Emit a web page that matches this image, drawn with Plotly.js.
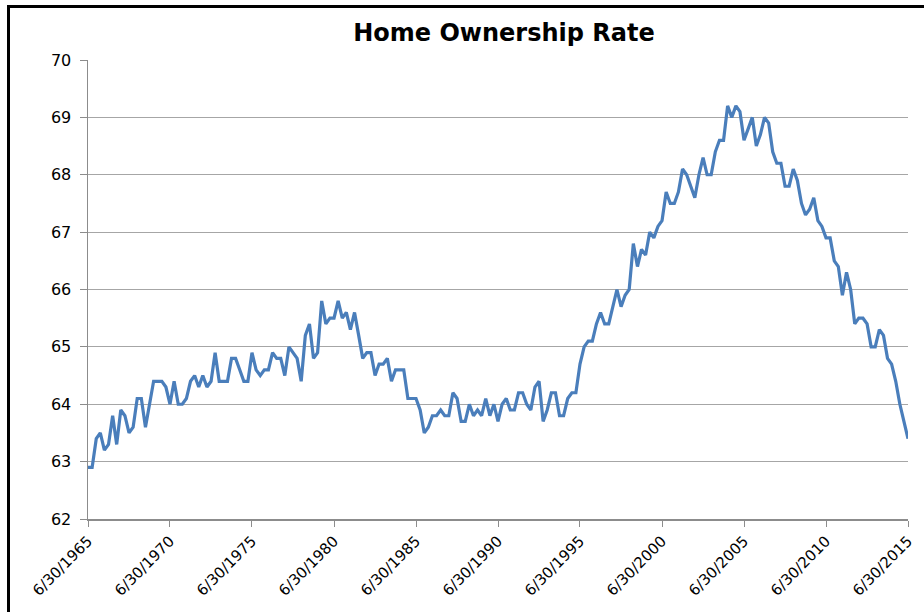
<!DOCTYPE html>
<html>
<head>
<meta charset="utf-8">
<script src="https://cdn.plot.ly/plotly-3.0.1.min.js"></script>
<style>
  html, body { margin: 0; padding: 0; background: #fff; }
  #wrap { position: relative; width: 924px; height: 612px; overflow: hidden; }
  #chart { position: absolute; left: 0; top: 0; width: 924px; height: 612px; }
  #frame { position: absolute; left: 7px; top: 5px; width: 930px; height: 620px;
           border-left: 3px solid #000; border-top: 3px solid #000; pointer-events: none; }
</style>
</head>
<body>
<div id="wrap">
  <div id="chart"></div>
  <div id="frame"></div>
</div>
<script>
// Quarterly home ownership rate (%), starting 6/30/1965
const firstYear = 1965;
const firstQuarter = 2;
const rates = [
  62.9, 62.9, 63.4, 63.5, 63.2, 63.3, 63.8, 63.3, 63.9, 63.8,
  63.5, 63.6, 64.1, 64.1, 63.6, 64.0, 64.4, 64.4, 64.4, 64.3,
  64.0, 64.4, 64.0, 64.0, 64.1, 64.4, 64.5, 64.3, 64.5, 64.3,
  64.4, 64.9, 64.4, 64.4, 64.4, 64.8, 64.8, 64.6, 64.4, 64.4,
  64.9, 64.6, 64.5, 64.6, 64.6, 64.9, 64.8, 64.8, 64.5, 65.0,
  64.9, 64.8, 64.4, 65.2, 65.4, 64.8, 64.9, 65.8, 65.4, 65.5,
  65.5, 65.8, 65.5, 65.6, 65.3, 65.6, 65.2, 64.8, 64.9, 64.9,
  64.5, 64.7, 64.7, 64.8, 64.4, 64.6, 64.6, 64.6, 64.1, 64.1,
  64.1, 63.9, 63.5, 63.6, 63.8, 63.8, 63.9, 63.8, 63.8, 64.2,
  64.1, 63.7, 63.7, 64.0, 63.8, 63.9, 63.8, 64.1, 63.8, 64.0,
  63.7, 64.0, 64.1, 63.9, 63.9, 64.2, 64.2, 64.0, 63.9, 64.3,
  64.4, 63.7, 63.9, 64.2, 64.2, 63.8, 63.8, 64.1, 64.2, 64.2,
  64.7, 65.0, 65.1, 65.1, 65.4, 65.6, 65.4, 65.4, 65.7, 66.0,
  65.7, 65.9, 66.0, 66.8, 66.4, 66.7, 66.6, 67.0, 66.9, 67.1,
  67.2, 67.7, 67.5, 67.5, 67.7, 68.1, 68.0, 67.8, 67.6, 68.0,
  68.3, 68.0, 68.0, 68.4, 68.6, 68.6, 69.2, 69.0, 69.2, 69.1,
  68.6, 68.8, 69.0, 68.5, 68.7, 69.0, 68.9, 68.4, 68.2, 68.2,
  67.8, 67.8, 68.1, 67.9, 67.5, 67.3, 67.4, 67.6, 67.2, 67.1,
  66.9, 66.9, 66.5, 66.4, 65.9, 66.3, 66.0, 65.4, 65.5, 65.5,
  65.4, 65.0, 65.0, 65.3, 65.2, 64.8, 64.7, 64.4, 64.0, 63.7,
  63.4
];
const tickDates = ['1965-06-30','1970-06-30','1975-06-30','1980-06-30','1985-06-30',
  '1990-06-30','1995-06-30','2000-06-30','2005-06-30','2010-06-30','2015-06-30'];
const tickLabels = ['6/30/1965','6/30/1970','6/30/1975','6/30/1980','6/30/1985',
  '6/30/1990','6/30/1995','6/30/2000','6/30/2005','6/30/2010','6/30/2015'];
const yTicks = [62, 63, 64, 65, 66, 67, 68, 69, 70];

// Quarter-end dates for each observation
const quarterEnds = ['03-31', '06-30', '09-30', '12-31'];
const dates = rates.map((v, i) => {
  const q = firstQuarter - 1 + i;
  const year = firstYear + Math.floor(q / 4);
  return year + '-' + quarterEnds[q % 4];
});

const trace = {
  x: dates,
  y: rates,
  type: 'scatter',
  mode: 'lines',
  line: { color: '#4a7ebb', width: 3.2 },
  hoverinfo: 'x+y'
};

const layout = {
  width: 924,
  height: 612,
  margin: { l: 88, r: 16, t: 60, b: 93 },
  paper_bgcolor: '#ffffff',
  plot_bgcolor: '#ffffff',
  showlegend: false,
  font: { family: 'DejaVu Sans, sans-serif', color: '#000' },
  title: {
    text: '<b>Home Ownership Rate</b>',
    font: { family: 'DejaVu Sans, sans-serif', size: 24, color: '#000' },
    xref: 'container', x: 504 / 924, xanchor: 'center',
    yref: 'container', y: 1 - 33 / 612, yanchor: 'middle'
  },
  xaxis: {
    type: 'date',
    range: ['1965-06-30', '2015-06-30'],
    tickmode: 'array',
    tickvals: tickDates,
    ticktext: tickLabels,
    tickangle: -45,
    tickfont: { size: 15, color: '#000' },
    showgrid: false,
    zeroline: false,
    showline: true,
    linecolor: '#8c8c8c',
    linewidth: 1.5,
    ticks: 'outside',
    ticklen: 6,
    tickwidth: 1,
    tickcolor: '#8c8c8c'
  },
  yaxis: {
    range: [62, 70],
    tickmode: 'array',
    tickvals: yTicks,
    ticktext: yTicks.map(String),
    tickfont: { size: 16, color: '#000' },
    ticklabelstandoff: 5,
    showgrid: true,
    gridcolor: '#a6a6a6',
    gridwidth: 1,
    zeroline: false,
    showline: true,
    linecolor: '#8c8c8c',
    linewidth: 1.5,
    ticks: 'outside',
    ticklen: 7,
    tickwidth: 1,
    tickcolor: '#8c8c8c'
  }
};

Plotly.newPlot('chart', [trace], layout, { displayModeBar: false, staticPlot: true });
</script>
</body>
</html>
